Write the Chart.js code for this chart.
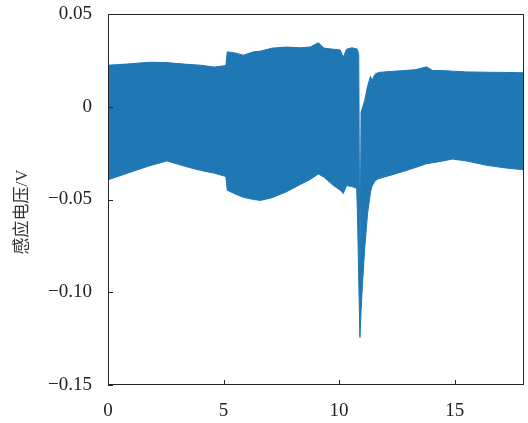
<!DOCTYPE html>
<html>
<head>
<meta charset="utf-8">
<script src="https://cdn.jsdelivr.net/npm/chart.js@4"></script>
<style>
    html, body { margin: 0; padding: 0; background: #fff; }
    #wrap { width: 528px; height: 423px; }
</style>
</head>
<body>
<div id="wrap"><canvas id="chart" width="528" height="423"></canvas></div>
<script>
// время (с) и огибающие сигнала (В)
const timeS = [
    0, 0.8, 1.8, 2.55, 3.3, 4.0, 4.6, 5.1, 5.16, 5.5,
    5.85, 6.3, 6.6, 7.1, 7.7, 8.3, 8.75, 9.1, 9.35, 9.75,
    10.05, 10.18, 10.32, 10.55, 10.76, 10.8, 10.85, 10.9, 10.95, 11.02,
    11.11, 11.23, 11.36, 11.42, 11.55, 11.7, 12.2, 12.7, 13.3, 13.78,
    14.05, 14.5, 14.9, 15.5, 16.4, 17.2, 18
];
const upperV = [
    0.0224, 0.0230, 0.0240, 0.0238, 0.0230, 0.0224, 0.0214, 0.0222, 0.0296, 0.0290,
    0.0278, 0.0296, 0.0300, 0.0316, 0.0322, 0.0318, 0.0322, 0.0345, 0.0316, 0.0310,
    0.0306, 0.0266, 0.0310, 0.0318, 0.0312, 0.0305, 0.0280, -0.0960, -0.0030, 0.0000,
    0.0035, 0.0110, 0.0165, 0.0140, 0.0175, 0.0185, 0.0190, 0.0194, 0.0200, 0.0215,
    0.0195, 0.0195, 0.0192, 0.0188, 0.0186, 0.0185, 0.0183
];
const lowerV = [
    -0.0394, -0.0360, -0.0318, -0.0292, -0.0320, -0.0343, -0.0358, -0.0376, -0.0450, -0.0470,
    -0.0488, -0.0500, -0.0505, -0.0490, -0.0460, -0.0420, -0.0392, -0.0362, -0.0380, -0.0424,
    -0.0450, -0.0468, -0.0425, -0.0430, -0.0440, -0.0600, -0.0940, -0.1244, -0.1100, -0.0940,
    -0.0760, -0.0577, -0.0460, -0.0430, -0.0400, -0.0388, -0.0370, -0.0352, -0.0328, -0.0307,
    -0.0302, -0.0292, -0.0282, -0.0292, -0.0316, -0.0330, -0.0340
];
const xTicks = [0, 5, 10, 15];
const yTicks = [-0.15, -0.10, -0.05, 0, 0.05];
const yTitle = '感应电压/V';

const bandColor = '#1f77b4';
const axisColor = '#262626';
const tickFont = { family: "'Liberation Serif', 'Times New Roman', serif", size: 19 };

function fmtY(v) {
    const r = Math.round(v * 100) / 100;
    if (r === 0) return '0';
    const s = Math.abs(r).toFixed(2);
    return r < 0 ? '\u2212' + s : s;
}

// рамка, внутренние засечки и подпись оси Y
const framePlugin = {
    id: 'frame',
    afterDraw(chart) {
        const ctx = chart.ctx;
        const a = chart.chartArea;
        const xs = chart.scales.x;
        const ys = chart.scales.y;
        ctx.save();
        ctx.strokeStyle = axisColor;
        ctx.lineWidth = 1;
        ctx.strokeRect(a.left + 0.5, a.top + 0.5, a.right - a.left - 1, a.bottom - a.top - 1);
        ctx.beginPath();
        xTicks.forEach(t => {
            const px = Math.round(xs.getPixelForValue(t)) + 0.5;
            ctx.moveTo(px, a.bottom);
            ctx.lineTo(px, a.bottom - 5);
        });
        yTicks.forEach(t => {
            const py = Math.round(ys.getPixelForValue(t)) + 0.5;
            ctx.moveTo(a.left, py);
            ctx.lineTo(a.left + 5, py);
        });
        ctx.stroke();

        ctx.translate(23, 212);
        ctx.rotate(-Math.PI / 2);
        ctx.fillStyle = '#333';
        ctx.font = "17px 'Liberation Serif', 'Noto Sans CJK SC', serif";
        ctx.textAlign = 'center';
        ctx.textBaseline = 'middle';
        ctx.fillText(yTitle, 0, 0);
        ctx.restore();
    }
};

new Chart(document.getElementById('chart'), {
    type: 'line',
    data: {
        datasets: [
            {
                data: timeS.map((t, i) => ({ x: t, y: upperV[i] })),
                borderColor: bandColor,
                backgroundColor: bandColor,
                borderWidth: 1,
                pointRadius: 0,
                tension: 0,
                fill: '+1'
            },
            {
                data: timeS.map((t, i) => ({ x: t, y: lowerV[i] })),
                borderColor: bandColor,
                backgroundColor: bandColor,
                borderWidth: 1,
                pointRadius: 0,
                tension: 0,
                fill: false
            }
        ]
    },
    options: {
        responsive: false,
        animation: false,
        layout: { padding: { top: 14, right: 4, left: 0, bottom: 0 } },
        plugins: {
            legend: { display: false },
            tooltip: { enabled: false }
        },
        scales: {
            x: {
                type: 'linear',
                min: 0,
                max: 18,
                afterBuildTicks: s => { s.ticks = xTicks.map(v => ({ value: v })); },
                afterFit: s => { s.height = 38; s.paddingLeft = 0; s.paddingRight = 0; },
                grid: { display: false, drawTicks: false },
                border: { display: false },
                ticks: { font: tickFont, color: '#222', padding: 15, maxRotation: 0 }
            },
            y: {
                min: -0.15,
                max: 0.05,
                afterBuildTicks: s => { s.ticks = yTicks.map(v => ({ value: v })); },
                afterFit: s => { s.width = 108; s.paddingTop = 0; s.paddingBottom = 0; },
                grid: { display: false, drawTicks: false },
                border: { display: false },
                ticks: { font: tickFont, color: '#222', padding: 16, callback: v => fmtY(v) }
            }
        }
    },
    plugins: [framePlugin]
});
</script>
</body>
</html>
